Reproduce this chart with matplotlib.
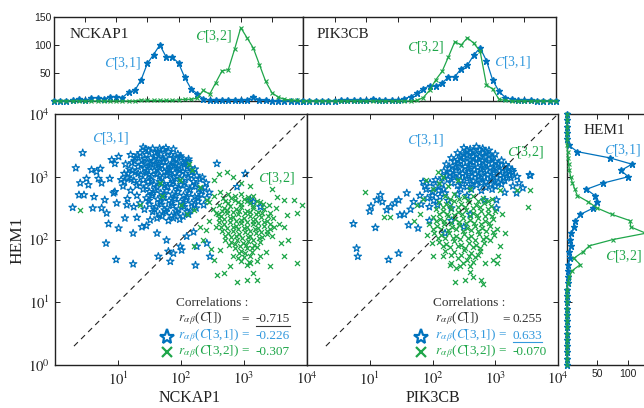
import numpy as np
import matplotlib
matplotlib.use('Agg')
import matplotlib.pyplot as plt

plt.rcParams['font.family'] = ['Liberation Serif', 'DejaVu Serif']
plt.rcParams['mathtext.fontset'] = 'stix'

BLUE = '#0072BD'
LBLUE = '#3399DD'
GREEN = '#1FA64A'
DARK = '#333333'
SANS = ['Liberation Sans', 'DejaVu Sans']

# ---------------- histogram data (bins in log10 units, 0..4) ----------------
hist_bins = [i / 10 for i in range(41)]
nckap1_c31 = [0,0,0,1,3,1,5,6,4,7, 8,6,16,19,38,67,83,100,79,78, 68,42,22,13,3,1,1,1,1,2,
              1,2,8,2,1,0,0,0,0,0, 0]
nckap1_c32 = [0,0,0,0,0,0,0,0,0,0, 0,0,0,0,2,1,1,1,1,1, 2,3,3,5,19,12,33,54,56,92,
              131,113,95,65,35,15,7,3,2,1, 0]
pik3cb_c31 = [0,0,0,0,0,0,1,1,2,1, 1,3,1,2,1,1,4,8,14,22, 27,26,32,43,43,58,64,82,95,72,
              37,17,6,3,2,1,1,0,0,0, 0]
pik3cb_c32 = [0,0,0,0,0,0,0,0,0,0, 0,0,0,0,0,0,0,0,1,6, 19,38,53,79,106,100,113,103,89,29,
              21,3,1,0,0,0,0,0,0,0, 0]
hem1_c31 = [0,0,0,0,0,0,0,0,0,0, 0,0,0,1,1,2,2,5,4,6, 5,7,11,14,22,43,49,46,32,60,
            101,89,107,71,17,3,0,0,0,0, 0]
hem1_c32 = [0,0,0,0,0,0,0,0,0,0, 0,0,0,1,4,8,22,11,26,37, 76,130,105,104,74,50,35,17,13,9,
            6,4,3,2,1,0,0,0,0,0, 0]

# ---------------- scatter data (log10 expression) ----------------
# NCKAP1 vs HEM1, cluster C[3,1]
nckap1_hem1_c31 = [
 (1.40,3.47),(1.48,3.42),(1.55,3.45),(1.63,3.40),(1.72,3.43),(1.88,3.44),(1.95,3.36),(1.35,3.38),
 (1.45,3.35),(1.52,3.30),(1.60,3.33),(1.68,3.36),(1.76,3.31),(1.84,3.35),(1.92,3.28),(2.00,3.30),
 (2.08,3.25),(1.28,3.30),(1.38,3.26),(1.47,3.22),(1.56,3.25),(1.64,3.20),(1.72,3.24),(1.80,3.19),
 (1.88,3.22),(1.96,3.17),(2.05,3.19),(2.14,3.14),(1.22,3.22),(1.32,3.16),(1.42,3.13),(1.50,3.17),
 (1.58,3.10),(1.66,3.14),(1.74,3.08),(1.82,3.12),(1.90,3.06),(1.98,3.10),(2.07,3.05),(2.18,3.08),
 (2.25,3.02),(1.18,3.12),(1.27,3.07),(1.36,3.03),(1.45,3.06),(1.53,3.00),(1.62,3.04),(1.70,2.98),
 (1.78,3.02),(1.86,2.96),(1.94,3.00),(2.02,2.94),(2.12,2.98),(2.20,2.92),(2.30,2.96),(1.15,2.98),
 (1.25,2.94),(1.34,2.90),(1.48,2.92),(1.57,2.88),(1.66,2.92),(1.74,2.86),(1.83,2.89),(1.91,2.84),
 (2.00,2.87),(2.09,2.82),(2.18,2.85),(2.28,2.80),(2.38,2.83),
 (1.40,2.80),(1.50,2.76),(1.59,2.80),(1.68,2.74),(1.77,2.78),(1.86,2.72),(1.95,2.76),(2.04,2.70),
 (2.13,2.74),(2.22,2.68),(2.32,2.72),(2.41,2.66),(1.45,2.66),(1.54,2.70),(1.63,2.64),(1.72,2.67),
 (1.81,2.62),(1.90,2.65),(1.99,2.60),(2.08,2.63),(2.17,2.58),(2.27,2.61),(2.36,2.55),(1.50,2.56),
 (1.60,2.52),(1.69,2.56),(1.78,2.50),(1.87,2.54),(1.96,2.48),(2.05,2.52),(2.15,2.46),(2.24,2.50),
 (1.55,2.44),(1.66,2.40),(1.76,2.44),(1.85,2.38),(1.94,2.42),(2.03,2.37),(2.12,2.40),(1.42,2.48),
 (1.35,2.58),(1.30,2.70),(2.45,2.75),(2.40,2.90),(1.62,2.34),(1.80,2.30),(1.98,2.32),
 (1.44,3.44),(1.59,3.38),(1.80,3.40),(1.99,3.33),(1.31,3.34),(1.42,3.29),(1.64,3.29),(1.72,3.28),
 (1.88,3.30),(2.04,3.22),(1.26,3.25),(1.52,3.20),(1.60,3.21),(1.69,3.18),(1.84,3.17),(1.92,3.20),
 (2.10,3.16),(1.37,3.19),(1.46,3.10),(1.62,3.12),(1.78,3.10),(1.94,3.13),(2.03,3.08),(2.22,3.12),
 (1.23,3.10),(1.32,3.05),(1.49,3.03),(1.66,3.01),(1.82,3.04),(1.98,2.97),(2.16,3.02),(2.34,2.99),
 (1.21,2.96),(1.40,2.95),(1.53,2.94),(1.70,2.89),(1.87,2.92),(2.05,2.90),(2.23,2.88),(1.30,2.86),
 (1.45,2.85),(1.62,2.83),(1.79,2.84),(1.96,2.81),(2.14,2.79),(2.33,2.77),(1.55,2.73),(1.73,2.71),
 (1.91,2.69),(2.09,2.67),(2.27,2.66),(1.49,2.62),(1.67,2.60),(1.85,2.58),(2.03,2.56),(2.21,2.55),
 (1.58,2.48),(1.74,2.47),(1.92,2.45),(2.10,2.44),(1.70,2.37),(1.88,2.34),(1.76,3.46),(1.66,3.45),
 (2.12,3.28),(1.16,3.05),(1.10,2.92),
 (1.10,3.05),(1.08,2.85),(1.20,2.78),(1.15,2.65),(1.25,2.52),(1.05,2.95),(1.12,3.20),(1.20,3.35),
 (0.44,3.38),(0.33,3.14),(0.28,2.51),(0.38,2.71),(0.40,2.90),(0.46,2.71),(0.58,3.11),(0.62,2.68),
 (0.60,2.50),(0.69,2.97),(0.72,3.13),(0.74,2.50),(0.82,2.42),(0.90,3.27),(0.95,3.21),(0.87,2.97),
 (0.93,2.74),(0.98,2.58),(0.95,2.76),(1.11,2.34),(1.14,2.55),(1.01,2.18),(0.81,1.94),(0.97,1.68),
 (1.24,1.61),(1.24,2.10),(1.01,3.32),(0.66,3.08),(0.74,2.90),(0.79,2.63),(0.53,2.87),(0.50,2.97),
 (1.38,2.20),(1.51,2.31),(1.62,2.10),(1.77,1.99),(1.88,1.78),(1.99,1.89),(1.80,1.81),(2.09,2.05),
 (2.25,1.89),(2.41,1.94),(2.20,2.12),(2.46,1.73),(2.23,1.59),(1.64,1.73),(1.83,1.65),(2.01,1.83),
 (2.57,3.21),(2.12,3.24),(3.02,3.05),(2.89,2.84),(3.15,2.60),(3.26,2.52),(3.10,2.63),(1.45,2.22),
 (1.30,2.35),(0.85,2.25)]
# NCKAP1 vs HEM1, cluster C[3,2]
nckap1_hem1_c32 = [
 (2.70,2.62),(2.80,2.66),(2.90,2.60),(3.00,2.64),(3.10,2.58),(3.20,2.62),(3.30,2.57),(2.60,2.55),
 (2.68,2.50),(2.78,2.54),(2.87,2.48),(2.96,2.52),(3.05,2.46),(3.14,2.50),(3.23,2.44),(3.32,2.48),
 (3.42,2.42),(2.55,2.43),(2.64,2.38),(2.73,2.42),(2.82,2.36),(2.91,2.40),(3.00,2.34),(3.09,2.38),
 (3.18,2.32),(3.27,2.36),(3.36,2.30),(3.46,2.34),(2.60,2.28),(2.69,2.24),(2.78,2.28),(2.87,2.22),
 (2.96,2.26),(3.05,2.20),(3.14,2.24),(3.23,2.18),(3.32,2.22),(3.41,2.16),(2.65,2.14),(2.74,2.10),
 (2.83,2.14),(2.92,2.08),(3.01,2.12),(3.10,2.06),(3.19,2.10),(3.28,2.04),(3.37,2.08),(2.70,2.00),
 (2.80,1.96),(2.89,2.00),(2.98,1.94),(3.07,1.98),(3.16,1.92),(3.25,1.96),(2.85,1.86),(2.95,1.82),
 (3.04,1.86),(3.13,1.80),(3.00,1.72),(2.90,1.70),(3.08,1.64),(2.50,2.48),(2.45,2.60),(2.52,2.70),
 (2.62,2.75),(3.50,2.50),(3.55,2.25),(3.45,2.05),(2.75,2.72),(2.95,2.72),(3.15,2.70),
 (2.75,2.58),(2.85,2.63),(2.95,2.56),(3.05,2.61),(3.15,2.54),(3.25,2.59),(2.65,2.46),(2.73,2.47),
 (2.83,2.44),(2.92,2.45),(3.01,2.42),(3.10,2.44),(3.19,2.40),(3.28,2.42),(3.38,2.38),(2.60,2.34),
 (2.69,2.32),(2.78,2.35),(2.87,2.30),(2.96,2.31),(3.05,2.28),(3.14,2.30),(3.23,2.26),(3.32,2.28),
 (3.42,2.25),(2.64,2.20),(2.73,2.18),(2.82,2.20),(2.91,2.16),(3.00,2.18),(3.09,2.14),(3.18,2.16),
 (3.27,2.12),(3.36,2.14),(2.70,2.06),(2.79,2.04),(2.88,2.06),(2.97,2.02),(3.06,2.04),(3.15,2.00),
 (3.24,2.02),(2.76,1.92),(2.86,1.93),(2.94,1.89),(3.03,1.91),(3.12,1.87),(3.21,1.88),(2.92,1.78),
 (3.02,1.79),(3.10,1.73),(2.96,1.66),(3.04,1.60),(3.20,1.65),(2.58,2.40),(2.55,2.20),(3.48,2.20),
 (3.40,2.55),(2.66,2.66),(2.86,2.70),(3.06,2.68),
 (3.52,2.68),(3.63,2.63),(3.79,2.63),(3.92,2.55),(3.84,2.42),(3.68,2.39),(3.63,2.20),(3.58,1.94),
 (3.63,1.73),(3.84,1.62),(3.42,1.57),(3.15,1.46),(3.05,1.35),(3.21,1.35),(2.89,1.33),(2.57,1.43),
 (2.68,1.46),(2.78,1.57),(2.83,1.73),(2.62,1.83),(2.52,1.67),(3.10,1.62),(3.26,1.73),(3.35,1.80),
 (3.70,2.00),(3.45,2.80),
 (2.73,3.08),(2.83,3.00),(2.52,2.95),(2.30,2.84),(2.41,2.63),(2.20,2.47),(2.10,2.40),(2.45,2.30),
 (2.40,2.15),(2.35,2.00),(2.60,3.05),(2.95,2.90),(3.10,2.85),(0.40,2.47),(1.35,2.55),(1.98,2.95),
 (1.67,2.90),(2.12,3.20),(2.18,3.10),(2.00,2.55),(1.70,2.70),(2.30,2.20),(2.20,1.90),(2.48,1.85)]
# PIK3CB vs HEM1, cluster C[3,1]
pik3cb_hem1_c31 = [
 (2.50,3.46),(2.60,3.44),(2.70,3.48),(2.80,3.45),(2.90,3.42),(2.40,3.38),(2.50,3.36),(2.60,3.39),
 (2.70,3.35),(2.80,3.38),(2.90,3.34),(3.00,3.36),(2.30,3.30),(2.40,3.27),(2.50,3.31),(2.60,3.26),
 (2.70,3.29),(2.80,3.25),(2.90,3.28),(3.00,3.24),(3.10,3.26),(2.22,3.20),(2.32,3.17),(2.42,3.21),
 (2.52,3.16),(2.62,3.19),(2.72,3.15),(2.82,3.18),(2.92,3.14),(3.02,3.17),(3.12,3.13),(3.22,3.15),
 (2.18,3.09),(2.28,3.06),(2.38,3.10),(2.48,3.05),(2.58,3.08),(2.68,3.04),(2.78,3.07),(2.88,3.03),
 (2.98,3.06),(3.08,3.02),(3.18,3.05),(3.28,3.08),(2.25,2.96),(2.35,2.99),(2.45,2.94),(2.55,2.97),
 (2.65,2.93),(2.75,2.96),(2.85,2.92),(2.95,2.95),(3.05,2.91),(3.15,2.94),(3.25,2.98),(2.40,2.86),
 (2.55,2.84),(2.70,2.87),(2.85,2.83),(3.00,2.85),(3.35,3.00),
 (2.55,3.42),(2.65,3.41),(2.75,3.43),(2.85,3.40),(2.45,3.33),(2.55,3.34),(2.65,3.32),(2.75,3.32),
 (2.85,3.31),(2.95,3.30),(2.35,3.24),(2.45,3.24),(2.55,3.23),(2.65,3.23),(2.75,3.22),(2.85,3.21),
 (2.95,3.21),(3.05,3.20),(3.17,3.19),(2.27,3.13),(2.37,3.14),(2.47,3.12),(2.57,3.12),(2.67,3.11),
 (2.77,3.11),(2.87,3.10),(2.97,3.10),(3.07,3.09),(3.17,3.09),(3.27,3.11),(2.23,3.02),(2.33,3.02),
 (2.43,3.01),(2.53,3.01),(2.63,3.00),(2.73,3.00),(2.83,2.99),(2.93,2.99),(3.03,2.98),(3.13,2.98),
 (3.23,3.02),(2.30,2.90),(2.48,2.89),(2.62,2.89),(2.78,2.90),(2.93,2.88),(3.10,2.88),(2.45,2.80),
 (2.62,2.80),(2.78,2.78),(2.95,2.80),(2.00,2.70),(1.88,2.85),(2.18,2.80),(2.05,2.95),(2.15,2.98),
 (1.85,2.92),(1.96,2.90),(2.05,2.85),(2.15,2.88),(1.90,2.80),(2.00,2.76),(2.10,2.78),(2.20,2.74),
 (1.80,2.70),(1.92,2.66),(2.02,2.62),(2.12,2.68),(2.25,2.62),(1.70,2.60),(1.82,2.56),(1.95,2.52),
 (2.08,2.55),(2.30,2.50),(1.59,2.74),(1.65,2.48),(2.40,2.72),(2.55,2.70),
 (0.74,2.25),(1.09,2.19),(0.79,1.86),(0.81,1.73),(1.30,1.68),(1.46,1.78),(1.02,2.53),(1.11,2.63),
 (1.17,2.71),(1.00,2.45),(1.27,2.47),(1.33,2.52),(1.46,2.63),(1.48,2.39),(1.62,2.23),(1.77,2.18),
 (1.40,2.58),(1.55,2.40),(1.20,2.60),(3.34,2.74),(3.44,2.82),(3.55,3.03),(3.38,2.90),(3.28,2.85),
 (2.83,2.63),(3.02,2.63),(3.02,2.50),(2.60,2.40),(2.30,2.30),(2.50,2.20),(2.20,2.10),(1.95,2.30),
 (3.56,3.02),(3.15,2.75)]
# PIK3CB vs HEM1, cluster C[3,2]
pik3cb_hem1_c32 = [
 (2.20,2.70),(2.35,2.72),(2.50,2.68),(2.65,2.70),(2.80,2.66),(2.10,2.60),(2.22,2.57),(2.34,2.61),
 (2.46,2.56),(2.58,2.59),(2.70,2.55),(2.82,2.58),(2.94,2.54),(2.05,2.48),(2.17,2.45),(2.29,2.49),
 (2.41,2.44),(2.53,2.47),(2.65,2.43),(2.77,2.46),(2.89,2.42),(3.00,2.45),(2.00,2.36),(2.12,2.33),
 (2.24,2.37),(2.36,2.32),(2.48,2.35),(2.60,2.31),(2.72,2.34),(2.84,2.30),(2.96,2.33),(1.95,2.24),
 (2.07,2.21),(2.19,2.25),(2.31,2.20),(2.43,2.23),(2.55,2.19),(2.67,2.22),(2.79,2.18),(2.91,2.21),
 (3.02,2.17),(2.02,2.10),(2.14,2.07),(2.26,2.11),(2.38,2.06),(2.50,2.09),(2.62,2.05),(2.74,2.08),
 (2.86,2.04),(2.98,2.07),(2.10,1.96),(2.22,1.93),(2.34,1.97),(2.46,1.92),(2.58,1.95),(2.70,1.91),
 (2.82,1.94),(2.20,1.82),(2.35,1.80),(2.50,1.84),(2.62,1.79),(2.75,1.82),(2.40,1.70),(2.55,1.68),
 (2.68,1.72),(2.30,1.62),(2.60,1.58),
 (2.28,2.64),(2.42,2.65),(2.56,2.63),(2.72,2.62),(2.88,2.61),(2.16,2.52),(2.28,2.53),(2.40,2.51),
 (2.52,2.52),(2.64,2.50),(2.76,2.51),(2.88,2.49),(2.10,2.41),(2.23,2.41),(2.35,2.39),(2.47,2.40),
 (2.59,2.38),(2.71,2.39),(2.83,2.37),(2.95,2.38),(2.06,2.29),(2.18,2.29),(2.30,2.27),(2.42,2.28),
 (2.54,2.26),(2.66,2.27),(2.78,2.25),(2.90,2.26),(2.01,2.17),(2.13,2.16),(2.25,2.15),(2.37,2.16),
 (2.49,2.14),(2.61,2.15),(2.73,2.13),(2.85,2.14),(2.97,2.12),(2.08,2.03),(2.20,2.02),(2.32,2.03),
 (2.44,2.01),(2.56,2.02),(2.68,2.00),(2.80,2.01),(2.92,1.99),(2.16,1.89),(2.28,1.88),(2.40,1.89),
 (2.52,1.87),(2.64,1.88),(2.76,1.87),(2.30,1.75),(2.45,1.76),(2.58,1.74),(2.72,1.76),(2.48,1.63),
 (2.65,1.64),(2.38,1.55),
 (0.93,2.75),(1.22,2.36),(1.33,2.36),(2.09,3.08),(2.17,3.00),(2.11,2.90),(3.07,2.79),(3.34,2.79),
 (3.55,2.79),(3.52,2.52),(3.07,1.89),(3.05,1.73),(3.02,1.62),(2.96,1.67),(2.83,1.62),(2.36,1.33),
 (2.52,1.35),(2.65,1.41),(2.78,1.35),(2.81,1.29),(2.28,1.59),(2.17,1.73),(2.01,1.73),(1.99,1.94),
 (1.91,2.07),(2.44,1.57),(2.60,1.49),(1.80,2.40),(1.75,2.55),(1.85,2.65),(1.70,2.30),(2.00,2.80),
 (1.90,2.95),(2.25,2.85),(2.40,2.95),(2.60,2.80),(2.95,2.65),(3.10,2.40),(3.15,2.10)]

corr_left = ['-0.715', '-0.226', '-0.307']
corr_right = ['0.255', '0.633', '-0.070']
decades = [1, 10, 100, 1000, 10000]
dec_labels = [r'$10^{0}$', r'$10^{1}$', r'$10^{2}$', r'$10^{3}$', r'$10^{4}$']
diag = [2, 10000]

W, H = 644, 408
fig = plt.figure(figsize=(W / 100, H / 100), dpi=100)

def fax(l, t, r, b):
    return fig.add_axes([l / W, 1 - b / H, (r - l) / W, (b - t) / H])

axL = fax(55, 114, 307, 365)
axR = fax(307, 114, 558, 365)
axTL = fax(54, 17, 303, 101)
axTR = fax(303, 17, 556, 101)
axH = fax(567, 114, 658, 365)

for ax in (axL, axR, axTL, axTR, axH):
    for s in ax.spines.values():
        s.set_linewidth(1.0)
        s.set_color('#222222')
    ax.tick_params(direction='in', top=True, right=True, length=3.5, width=0.7,
                   colors='#222222', which='both')

# ---- scatter panels ----
def scatter_panel(ax, pts31, pts32, xlabels):
    p31 = np.array(pts31)
    p32 = np.array(pts32)
    ax.scatter(10 ** p31[:, 0], 10 ** p31[:, 1], marker='*', s=30, facecolors='none',
               edgecolors=BLUE, linewidths=0.9, zorder=2)
    ax.scatter(10 ** p32[:, 0], 10 ** p32[:, 1], marker='x', s=13, c=GREEN,
               linewidths=0.9, zorder=3)
    ax.plot(diag, diag, ls=(0, (5, 4)), color='#222222', lw=0.8, zorder=4)
    ax.set_xscale('log')
    ax.set_yscale('log')
    ax.set_xlim(1, 1e4)
    ax.set_ylim(1, 1e4)
    ax.xaxis.set_minor_locator(matplotlib.ticker.NullLocator())
    ax.yaxis.set_minor_locator(matplotlib.ticker.NullLocator())
    ax.set_xticks(decades)
    ax.set_xticklabels(xlabels, fontsize=10.5)
    ax.set_yticks(decades)
    ax.tick_params(axis='x', pad=4)

scatter_panel(axL, nckap1_hem1_c31, nckap1_hem1_c32, [''] + dec_labels[1:])
axL.set_yticklabels(dec_labels, fontsize=10.5)
axL.tick_params(axis='y', pad=4)
scatter_panel(axR, pik3cb_hem1_c31, pik3cb_hem1_c32, [''] + dec_labels[1:])
axR.set_yticklabels([])

lab = dict(fontsize=10, ha='center', va='center')
axL.text(0.218, 0.904, r'$C$[3,1]', color=LBLUE, transform=axL.transAxes, **lab)
axL.text(0.877, 0.745, r'$C$[3,2]', color=GREEN, transform=axL.transAxes, **lab)
axR.text(0.470, 0.896, r'$C$[3,1]', color=LBLUE, transform=axR.transAxes, **lab)
axR.text(0.872, 0.849, r'$C$[3,2]', color=GREEN, transform=axR.transAxes, **lab)

rsym = r'$r_{\alpha\,\beta}$'
rlab = [rsym + '($C$[])', rsym + '($C$[3,1]) =', rsym + '($C$[3,2]) =']
row_y = [0.183, 0.116, 0.052]
row_col = [DARK, LBLUE, GREEN]
underlined = []
CFS = 9.5

def corr_block(ax, x0, eq1_x, val_x, vals, und_row, mk_x):
    ax.text(x0 - 0.008, 0.247, 'Correlations :', transform=ax.transAxes, fontsize=CFS,
            color=DARK, ha='left', va='center')
    for i in range(3):
        ax.text(x0, row_y[i], rlab[i], transform=ax.transAxes, fontsize=CFS,
                color=row_col[i], ha='left', va='center')
        if i == 0:
            ax.text(eq1_x, row_y[i], '=', transform=ax.transAxes, fontsize=CFS,
                    color=row_col[i], ha='center', va='center')
        t = ax.text(val_x, row_y[i], vals[i], transform=ax.transAxes, fontsize=CFS,
                    color=row_col[i], ha='left', va='center')
        if i == und_row:
            underlined.append((t, row_col[i]))
    ax.plot([mk_x], [0.113], marker='*', ms=11, mfc='none', mec=BLUE, mew=1.6,
            transform=ax.transAxes, clip_on=False)
    ax.plot([mk_x], [0.053], marker='x', ms=7.5, mec=GREEN, mew=1.6,
            transform=ax.transAxes, clip_on=False)

corr_block(axL, 0.488, 0.756, 0.797, corr_left, 0, 0.446)
corr_block(axR, 0.510, 0.795, 0.820, corr_right, 1, 0.453)

# ---- top histograms ----
for ax, c31, c32 in ((axTL, nckap1_c31, nckap1_c32), (axTR, pik3cb_c31, pik3cb_c32)):
    ax.plot(hist_bins, c31, color=BLUE, lw=0.9, marker='*', ms=4.5, clip_on=False, zorder=3)
    ax.plot(hist_bins, c32, color=GREEN, lw=0.9, marker='x', ms=3, mew=0.8, clip_on=False, zorder=4)
    ax.set_xlim(0, 4)
    ax.set_ylim(0, 150)
    ax.set_xticks([0.5, 1, 1.5, 2, 2.5, 3, 3.5])
    ax.set_xticklabels([])
    ax.set_yticks([50, 100, 150])
axTL.set_yticklabels(['50', '100', '150'], fontsize=7.5, family=SANS)
axTL.tick_params(axis='y', pad=2)
axTR.set_yticklabels([])

axTL.text(0.064, 0.786, 'NCKAP1', transform=axTL.transAxes, fontsize=11, ha='left', va='center', color='#222222')
axTL.text(0.273, 0.452, r'$C$[3,1]', color=LBLUE, transform=axTL.transAxes, **lab)
axTL.text(0.639, 0.774, r'$C$[3,2]', color=GREEN, transform=axTL.transAxes, **lab)
axTR.text(0.055, 0.786, 'PIK3CB', transform=axTR.transAxes, fontsize=11, ha='left', va='center', color='#222222')
axTR.text(0.482, 0.643, r'$C$[3,2]', color=GREEN, transform=axTR.transAxes, **lab)
axTR.text(0.826, 0.464, r'$C$[3,1]', color=LBLUE, transform=axTR.transAxes, **lab)

# ---- right histogram (HEM1) ----
axH.plot(hem1_c31, hist_bins, color=BLUE, lw=0.9, marker='*', ms=4.5, clip_on=False, zorder=3)
axH.plot(hem1_c32, hist_bins, color=GREEN, lw=0.9, marker='x', ms=3, mew=0.8, clip_on=False, zorder=4)
axH.set_xlim(0, 150)
axH.set_ylim(0, 4)
axH.set_yticks([1, 2, 3])
axH.set_yticklabels([])
axH.set_xticks([50, 100])
axH.set_xticklabels(['50', '100'], fontsize=7.5, family=SANS)
axH.tick_params(axis='x', pad=3)
axH.text(0.41, 0.936, 'HEM1', transform=axH.transAxes, fontsize=11, ha='center', va='center', color='#222222')
axH.text(0.604, 0.857, r'$C$[3,1]', color=LBLUE, transform=axH.transAxes, **lab)
axH.text(0.615, 0.434, r'$C$[3,2]', color=GREEN, transform=axH.transAxes, **lab)

# ---- axis labels ----
fig.text(17 / W, 1 - 240 / H, 'HEM1', rotation=90, ha='center', va='center', fontsize=12.5, color='#222222')
fig.text(190 / W, 1 - 398 / H, 'NCKAP1', ha='center', va='center', fontsize=11.5, color='#222222')
fig.text(433 / W, 1 - 398 / H, 'PIK3CB', ha='center', va='center', fontsize=11.5, color='#222222')

# underline selected values
fig.canvas.draw()
r = fig.canvas.get_renderer()
for t, col in underlined:
    bb = t.get_window_extent(renderer=r)
    y = bb.y0 - 0.5
    fig.add_artist(matplotlib.lines.Line2D([bb.x0 / W, bb.x1 / W], [y / H, y / H],
                                           color=col, lw=0.8))

fig.savefig('out.png', dpi=100)
